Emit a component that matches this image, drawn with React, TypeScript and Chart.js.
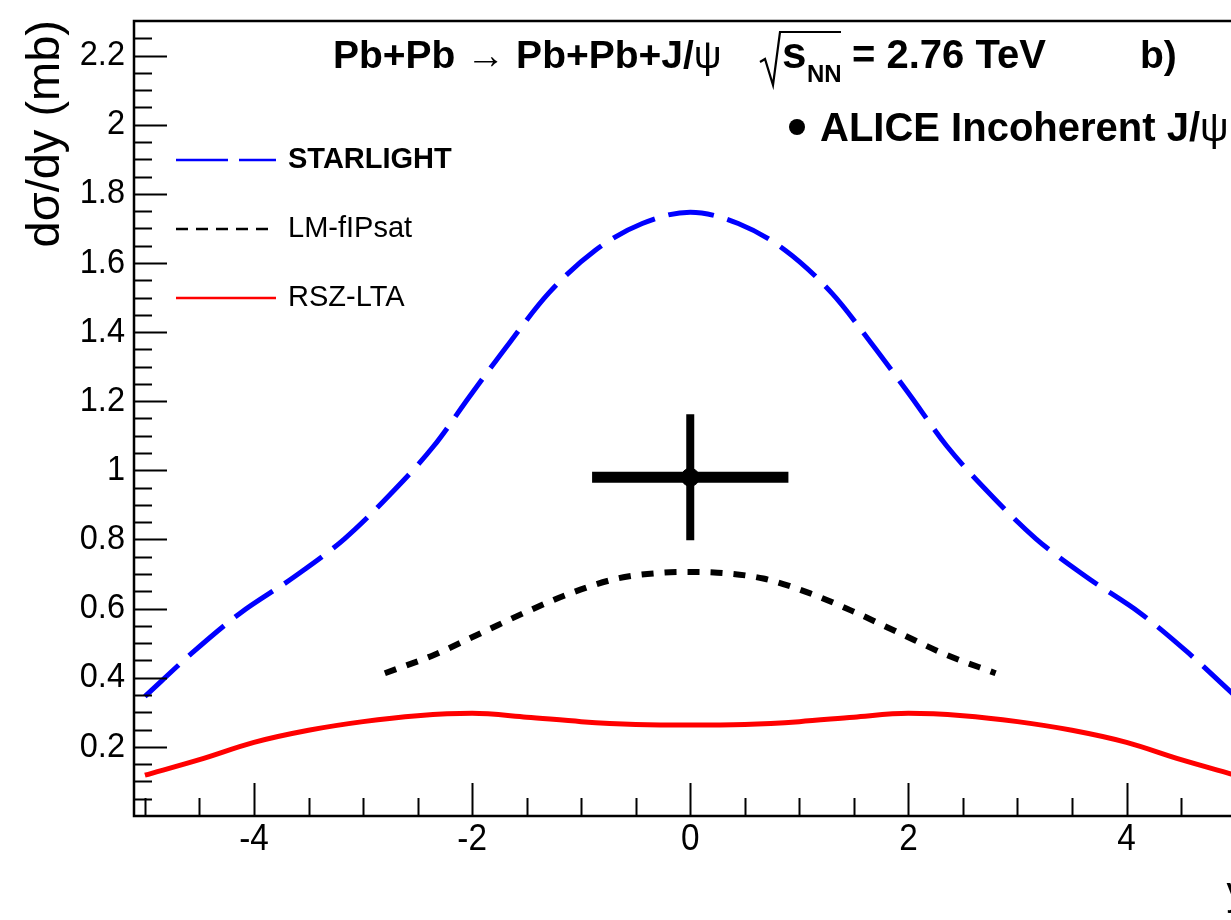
import React, { useEffect, useRef } from "react";
import { Chart, registerables } from "chart.js";
Chart.register(...registerables);

// ---- data ----
const starlightX = [-5, -4.57, -4.13, -3.63, -3.17, -2.75, -2.35, -2.02, -1.66, -1.3, -0.87, -0.44, 0, 0.44, 0.87, 1.3, 1.66, 2.02, 2.35, 2.75, 3.17, 3.63, 4.13, 4.57, 5];
const starlightY = [0.346, 0.471, 0.586, 0.692, 0.802, 0.931, 1.071, 1.215, 1.368, 1.512, 1.637, 1.714, 1.747, 1.714, 1.637, 1.512, 1.368, 1.215, 1.071, 0.931, 0.802, 0.692, 0.586, 0.471, 0.346];

const lmX = [-2.8, -2.35, -1.92, -1.5, -1.1, -0.67, -0.25, 0, 0.25, 0.67, 1.1, 1.5, 1.92, 2.35, 2.8];
const lmY = [0.413, 0.466, 0.529, 0.591, 0.644, 0.687, 0.704, 0.706, 0.704, 0.687, 0.644, 0.591, 0.529, 0.466, 0.413];

const rszX = [-5, -4.5, -4, -3.5, -3, -2.5, -2, -1.5, -1, -0.5, 0, 0.5, 1, 1.5, 2, 2.5, 3, 3.5, 4, 4.5, 5];
const rszY = [0.118, 0.163, 0.213, 0.248, 0.273, 0.29, 0.297, 0.286, 0.273, 0.265, 0.263, 0.265, 0.273, 0.286, 0.297, 0.29, 0.273, 0.248, 0.213, 0.163, 0.118];

const aliceX = [0];
const aliceY = [0.98];
const aliceXErr = [0.9];
const aliceYErr = [0.182];

const xTickValues = [-4, -2, 0, 2, 4];
const xTickLabels = ["-4", "-2", "0", "2", "4"];
const yTickValues = [0.2, 0.4, 0.6, 0.8, 1, 1.2, 1.4, 1.6, 1.8, 2, 2.2];
const yTickLabels = ["0.2", "0.4", "0.6", "0.8", "1", "1.2", "1.4", "1.6", "1.8", "2", "2.2"];

const seriesNames = ["STARLIGHT", "LM-fIPsat", "RSZ-LTA"];

const FONT = '"Liberation Sans", Arial, Helvetica, sans-serif';

function pts(xs: number[], ys: number[]) {
  return xs.map((x, i) => ({ x, y: ys[i] }));
}

function txt(ctx: CanvasRenderingContext2D, s: string, x: number, y: number, font: string, align: CanvasTextAlign = "left", baseline: CanvasTextBaseline = "alphabetic", sx = 1) {
  ctx.save();
  ctx.font = font;
  ctx.textAlign = align;
  ctx.textBaseline = baseline;
  ctx.fillStyle = "#000";
  ctx.translate(x, y);
  ctx.scale(sx, 1);
  ctx.fillText(s, 0, 0);
  const w = ctx.measureText(s).width * sx;
  ctx.restore();
  return w;
}

const decor = {
  id: "decor",
  beforeDatasetsDraw(chart: any) {
    const ctx: CanvasRenderingContext2D = chart.ctx;
    const xs = chart.scales.x;
    const ys = chart.scales.y;
    ctx.save();
    ctx.strokeStyle = "#000";
    ctx.lineCap = "butt";
    for (let i = 0; i < aliceX.length; i++) {
      ctx.lineWidth = 11;
      ctx.beginPath();
      ctx.moveTo(xs.getPixelForValue(aliceX[i] - aliceXErr[i]), ys.getPixelForValue(aliceY[i]));
      ctx.lineTo(xs.getPixelForValue(aliceX[i] + aliceXErr[i]), ys.getPixelForValue(aliceY[i]));
      ctx.stroke();
      ctx.lineWidth = 8;
      ctx.beginPath();
      ctx.moveTo(xs.getPixelForValue(aliceX[i]), ys.getPixelForValue(aliceY[i] - aliceYErr[i]));
      ctx.lineTo(xs.getPixelForValue(aliceX[i]), ys.getPixelForValue(aliceY[i] + aliceYErr[i]));
      ctx.stroke();
    }
    ctx.restore();
  },
  afterDraw(chart: any) {
    const ctx: CanvasRenderingContext2D = chart.ctx;
    const xs = chart.scales.x;
    const ys = chart.scales.y;
    const a = chart.chartArea;
    ctx.save();
    ctx.strokeStyle = "#000";
    ctx.lineWidth = 2.5;
    ctx.strokeRect(a.left, a.top, a.right - a.left, a.bottom - a.top);
    ctx.lineWidth = 2;
    for (let k = 0; k <= 45; k++) {
      const v = k * 0.05;
      const py = Math.round(ys.getPixelForValue(v)) + 0.5;
      if (py < a.top || py > a.bottom) continue;
      const major = k % 4 === 0;
      ctx.beginPath();
      ctx.moveTo(a.left, py);
      ctx.lineTo(a.left + (major ? 33 : 18), py);
      ctx.stroke();
    }
    for (let k = -10; k <= 10; k++) {
      const v = k * 0.5;
      const px = Math.round(xs.getPixelForValue(v)) + 0.5;
      const major = k % 4 === 0;
      ctx.beginPath();
      ctx.moveTo(px, a.bottom);
      ctx.lineTo(px, a.bottom - (major ? 33 : 18));
      ctx.stroke();
    }
    ctx.restore();
    const yTickFont = `35px ${FONT}`;
    const xTickFont = `37px ${FONT}`;
    yTickValues.forEach((v, i) => txt(ctx, yTickLabels[i], 125, ys.getPixelForValue(v), yTickFont, "right", "middle", 0.93));
    xTickValues.forEach((v, i) => txt(ctx, xTickLabels[i], xs.getPixelForValue(v), 840, xTickFont, "center", "middle", 0.9));

    // axis titles
    ctx.save();
    ctx.translate(46, 20);
    ctx.rotate(-Math.PI / 2);
    txt(ctx, "dσ/dy (mb)", 0, 0, `47px ${FONT}`, "right", "middle");
    ctx.restore();
    txt(ctx, "y", a.right, 905, `40px ${FONT}`, "right", "alphabetic");

    // title line
    const tb = `bold 39px ${FONT}`;
    const tr = `39px ${FONT}`;
    let x = 333;
    const by = 68;
    x += txt(ctx, "Pb+Pb ", x, by, tb);
    x += txt(ctx, "→", x, by, tr);
    x += txt(ctx, " Pb+Pb+J/", x, by, tb);
    txt(ctx, "ψ", x, by, tr);
    // radical sign
    ctx.save();
    ctx.strokeStyle = "#000";
    ctx.lineWidth = 2.2;
    ctx.lineJoin = "miter";
    ctx.beginPath();
    ctx.moveTo(760, 62);
    ctx.lineTo(765, 59);
    ctx.lineTo(773, 85);
    ctx.lineTo(780, 32);
    ctx.lineTo(841, 32);
    ctx.stroke();
    ctx.restore();
    txt(ctx, "s", 782, by, `bold 44px ${FONT}`);
    txt(ctx, "NN", 807, 82, `bold 24px ${FONT}`);
    txt(ctx, "= 2.76 TeV", 852, by, `bold 40px ${FONT}`);
    txt(ctx, "b)", 1140, by, tb);

    // ALICE label
    ctx.save();
    ctx.fillStyle = "#000";
    ctx.beginPath();
    ctx.arc(797, 127, 8, 0, Math.PI * 2);
    ctx.fill();
    ctx.restore();
    let ax = 820;
    ax += txt(ctx, "ALICE Incoherent J/", ax, 141, `bold 40px ${FONT}`);
    txt(ctx, "ψ", ax, 141, `40px ${FONT}`);

    // legend
    const legY = [160, 229, 298];
    const legColors = ["#0000ff", "#000000", "#ff0000"];
    const legDash = [[52, 11], [12, 8], []];
    const legFonts = [`bold 29px ${FONT}`, `29px ${FONT}`, `29px ${FONT}`];
    seriesNames.forEach((name, i) => {
      ctx.save();
      ctx.strokeStyle = legColors[i];
      ctx.lineWidth = 2.5;
      ctx.setLineDash(legDash[i]);
      ctx.beginPath();
      ctx.moveTo(176, legY[i]);
      ctx.lineTo(276, legY[i]);
      ctx.stroke();
      ctx.restore();
      txt(ctx, name, 288, legY[i], legFonts[i], "left", "middle");
    });
  },
};

export default function App() {
  const ref = useRef<HTMLCanvasElement>(null);
  useEffect(() => {
    document.body.style.margin = "0";
    const chart = new Chart(ref.current!, {
      type: "scatter",
      data: {
        datasets: [
          {
            label: seriesNames[0],
            data: pts(starlightX, starlightY),
            showLine: true,
            borderColor: "#0000ff",
            borderWidth: 5,
            borderDash: [46, 14],
            pointRadius: 0,
            cubicInterpolationMode: "monotone",
          },
          {
            label: seriesNames[1],
            data: pts(lmX, lmY),
            showLine: true,
            borderColor: "#000000",
            borderWidth: 6,
            borderDash: [12, 11],
            pointRadius: 0,
            cubicInterpolationMode: "monotone",
          },
          {
            label: seriesNames[2],
            data: pts(rszX, rszY),
            showLine: true,
            borderColor: "#ff0000",
            borderWidth: 5,
            pointRadius: 0,
            cubicInterpolationMode: "monotone",
          },
          {
            label: "ALICE Incoherent J/ψ",
            data: pts(aliceX, aliceY),
            showLine: false,
            pointRadius: 9,
            pointBackgroundColor: "#000",
            pointBorderColor: "#000",
          },
        ],
      },
      options: {
        animation: false,
        responsive: false,
        layout: { padding: { left: 134, top: 21, right: 13.5, bottom: 104 } },
        plugins: { legend: { display: false }, tooltip: { enabled: false }, title: { display: false } },
        events: [],
        scales: {
          x: { type: "linear", min: -5.1, max: 5.1, display: false },
          y: { type: "linear", min: 0, max: 2.3, display: false },
        },
      },
      plugins: [decor],
    } as any);
    return () => chart.destroy();
  }, []);
  return (
    <div style={{ position: "absolute", left: 0, top: 0, width: 1231, height: 920, overflow: "hidden", background: "#fff" }}>
      <canvas ref={ref} width={1260} height={920} style={{ display: "block" }} />
    </div>
  );
}
